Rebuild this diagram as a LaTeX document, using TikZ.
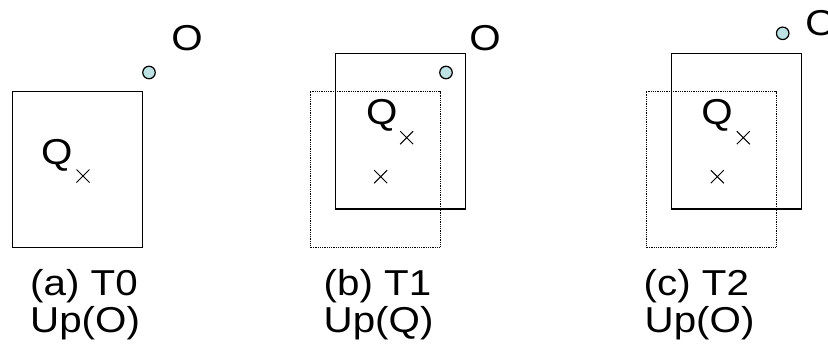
\documentclass[tikz,border=0pt]{standalone}
\usepackage{fontspec}
\setmainfont{Liberation Sans}
\usetikzlibrary{shapes.misc}
\definecolor{objfill}{RGB}{190,225,228}
\newcommand{\widetxt}[1]{\scalebox{1.12}[1]{#1}}
\tikzset{
  lbl/.style={font=\fontsize{36}{40}\selectfont, inner sep=0pt},
  mbr/.style={line width=1.3pt},
  oldmbr/.style={line width=0.8pt, dash pattern=on 0.9pt off 0.9pt},
  obj/.style={circle, draw, fill=objfill, line width=1.2pt, minimum size=12.5pt, inner sep=0pt},
  qpt/.style={cross out, draw, line width=1pt, minimum size=12pt, inner sep=0pt}
}
\begin{document}
\begin{tikzpicture}[x=1pt, y=-1pt]
  \useasboundingbox (0,0) rectangle (828,354);
  % (a) time T0, the object moves
  \draw[mbr] (12.7,91.7) rectangle (142.7,247.3);
  \node[obj] (oa) at (149,72.5) {};
  \node[lbl, anchor=base] (oalbl) at (187,50) {\widetxt{O}};
  \node[lbl, anchor=base] (qalbl) at (56.7,164) {\widetxt{Q}};
  \node[qpt] (qa) at (83,176) {};
  \node[lbl, anchor=base west] (capa) at (30,295) {\widetxt{(a) T0}};
  \node[lbl, anchor=base west] (upa) at (30,332) {\widetxt{Up(O)}};
  % (b) time T1, the query moves
  \draw[oldmbr] (310,91.7) rectangle (440,247.3);
  \draw[mbr] (335.7,53.3) rectangle (465.7,209);
  \node[obj] (ob) at (446,72.5) {};
  \node[lbl, anchor=base] (oblbl) at (485,50) {\widetxt{O}};
  \node[lbl, anchor=base] (qblbl) at (381.7,124) {\widetxt{Q}};
  \node[qpt] (qb) at (406.7,137.7) {};
  \node[qpt] (qbold) at (380.7,176.7) {};
  \node[lbl, anchor=base west] (capb) at (323.5,295) {\widetxt{(b) T1}};
  \node[lbl, anchor=base west] (upb) at (323.5,332) {\widetxt{Up(Q)}};
  % (c) time T2, the object moves again
  \draw[oldmbr] (646,91.7) rectangle (776,247.3);
  \draw[mbr] (671.7,53.3) rectangle (801.7,209);
  \node[obj] (oc) at (782.7,33.3) {};
  \node[lbl, anchor=base] (oclbl) at (821,35) {\widetxt{O}};
  \node[lbl, anchor=base] (qclbl) at (717,124) {\widetxt{Q}};
  \node[qpt] (qc) at (743.3,137.7) {};
  \node[qpt] (qcold) at (717.3,176.7) {};
  \node[lbl, anchor=base west] (capc) at (643.5,295) {\widetxt{(c) T2}};
  \node[lbl, anchor=base west] (upc) at (644.5,332) {\widetxt{Up(O)}};
\end{tikzpicture}
\end{document}
